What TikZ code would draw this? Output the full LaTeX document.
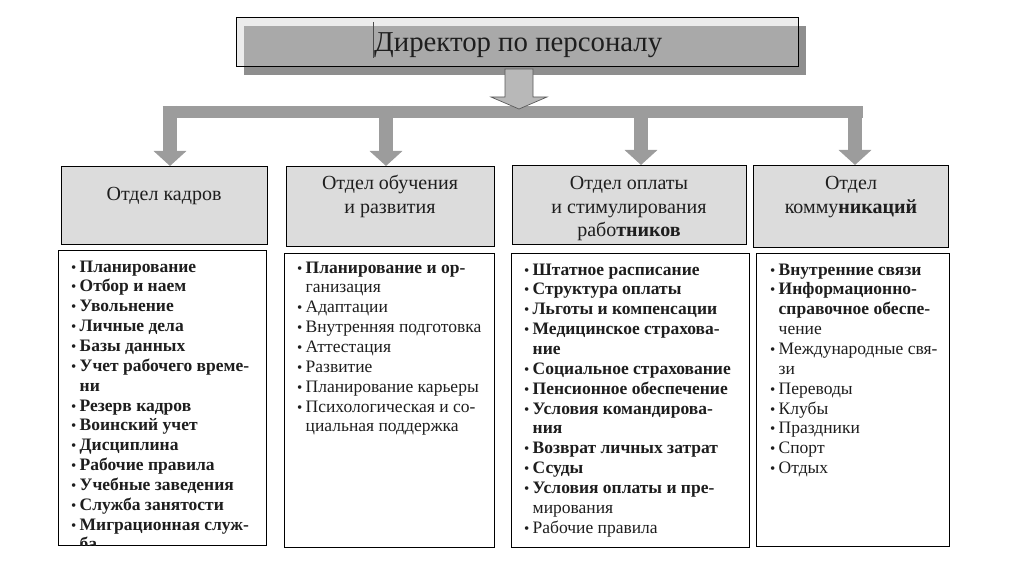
\documentclass[tikz,border=0pt]{standalone}
\usepackage{fontspec}
\setmainfont{Liberation Serif}
\usetikzlibrary{arrows.meta,calc}
\definecolor{arrgray}{HTML}{9C9C9C}
\definecolor{deptfill}{HTML}{DCDCDC}
\definecolor{titlelight}{HTML}{ECECEC}
\definecolor{titleshadow}{HTML}{8E8E8E}
\definecolor{titlemid}{HTML}{A9A9A9}
\definecolor{toparr}{HTML}{B8B8B8}
\definecolor{txt}{HTML}{1E1E1E}
\newcommand\bl{\makebox[8.5pt][l]{{\fontsize{15}{0}\selectfont\mdseries\textbullet}}}
\newcommand\ct{\hspace*{8.5pt}}
\begin{document}
\begin{tikzpicture}[x=1pt,y=-1pt,
  deptbox/.style={draw=black,line width=0.9pt,fill=deptfill,inner sep=0pt,outer sep=0pt,anchor=north west},
  listbox/.style={draw=black,line width=0.9pt,fill=white,inner sep=0pt,outer sep=0pt,anchor=north west},
  depttext/.style={align=center,inner sep=0pt,anchor=north,text=txt,font=\fontsize{20}{23.5}\selectfont},
  listtext/.style={align=left,inner sep=0pt,anchor=north west,text=txt,font=\fontsize{17.5}{19.85}\selectfont},
  bararrow/.style={draw=arrgray,line width=14pt,line cap=butt,-{Triangle[width=32pt,length=15pt]}},
  barline/.style={draw=arrgray,line width=12pt,line cap=butt}]
\useasboundingbox (0,0) rectangle (1020,588);

% title
\node[draw=none,fill=titlelight,inner sep=0pt,outer sep=0pt,minimum width=562pt,minimum height=49pt,anchor=north west] (dir) at (236,17) {};
\fill[titleshadow] (244,26) rectangle (806,75);
\fill[titlemid] (244,26) rectangle (798,66);
\draw[black,line width=0.9pt] (dir.north west) rectangle (dir.south east);
\draw[black!70,line width=0.4pt] (373,22) -- (373,58);
\node[inner sep=0pt,text=txt,font=\fontsize{28.8}{32}\selectfont,anchor=base west] (dirtext) at (374,52) {Директор по персоналу};

% department boxes
\node[deptbox,minimum width=206pt,minimum height=78pt] (d1) at (61,166) {};
\node[deptbox,minimum width=208pt,minimum height=80pt] (d2) at (286,166) {};
\node[deptbox,minimum width=234pt,minimum height=79pt] (d3) at (512,165) {};
\node[deptbox,minimum width=195pt,minimum height=82pt] (d4) at (753,165) {};

\node[depttext] (d1t) at (164,184) {\strut Отдел кадров};
\node[depttext] (d2t) at (390,173) {\strut Отдел обучения\\\strut и развития};
\node[depttext] (d3t) at (629,173) {\strut Отдел оплаты\\\strut и стимулирования\\\strut рабо\textbf{тников}};
\node[depttext] (d4t) at (851,173) {\strut Отдел\\\strut комму\textbf{никаций}};

% connectors
\coordinate (barL) at (162.5,112);
\coordinate (barR) at (862.5,112);
\coordinate (a1) at (170,106);
\coordinate (a2) at (386,106);
\coordinate (a3) at (641,106);
\coordinate (a4) at (855,106);
\draw[barline] (barL) -- (barR);
\draw[bararrow] (a1) -- (a1 |- d1.north);
\draw[bararrow] (a2) -- (a2 |- d2.north);
\draw[bararrow] (a3) -- (a3 |- d3.north);
\draw[bararrow] (a4) -- (a4 |- d4.north);
\coordinate (ta) at (505,69);
\draw[fill=toparr,draw=black!65,line width=0.7pt,line join=miter]
  (ta) -- ++(28,0) -- ++(0,28) -- ++(14,0) -- ++(-28,12) -- ++(-28,-12) -- ++(14,0) -- cycle;

% list boxes
\node[listbox,minimum width=208pt,minimum height=295pt] (l1) at (58,250) {};
\node[listbox,minimum width=210pt,minimum height=294pt] (l2) at (284,253) {};
\node[listbox,minimum width=238pt,minimum height=294pt] (l3) at (511,253) {};
\node[listbox,minimum width=193pt,minimum height=293pt] (l4) at (756,253) {};

\begin{scope}
\clip (l1.north west) rectangle (l1.south east);
\node[listtext,font=\fontsize{17.5}{19.85}\selectfont\bfseries] (l1t) at (71,258) {%
\strut\bl Планирование\\
\strut\bl Отбор и наем\\
\strut\bl Увольнение\\
\strut\bl Личные дела\\
\strut\bl Базы данных\\
\strut\bl Учет рабочего време-\\
\strut\ct ни\\
\strut\bl Резерв кадров\\
\strut\bl Воинский учет\\
\strut\bl Дисциплина\\
\strut\bl Рабочие правила\\
\strut\bl Учебные заведения\\
\strut\bl Служба занятости\\
\strut\bl Миграционная служ-\\
\strut\ct ба};
\end{scope}

\node[listtext] (l2t) at (297,259) {%
\strut\bl \textbf{Планирование и ор-}\\
\strut\ct ганизация\\
\strut\bl Адаптации\\
\strut\bl Внутренняя подготовка\\
\strut\bl Аттестация\\
\strut\bl Развитие\\
\strut\bl Планирование карьеры\\
\strut\bl Психологическая и со-\\
\strut\ct циальная поддержка};

\node[listtext] (l3t) at (524,261) {%
\strut\bl \textbf{Штатное расписание}\\
\strut\bl \textbf{Структура оплаты}\\
\strut\bl \textbf{Льготы и компенсации}\\
\strut\bl \textbf{Медицинское страхова-}\\
\strut\ct \textbf{ние}\\
\strut\bl \textbf{Социальное страхование}\\
\strut\bl \textbf{Пенсионное обеспечение}\\
\strut\bl \textbf{Условия командирова-}\\
\strut\ct \textbf{ния}\\
\strut\bl \textbf{Возврат личных затрат}\\
\strut\bl \textbf{Ссуды}\\
\strut\bl \textbf{Условия оплаты и пре-}\\
\strut\ct мирования\\
\strut\bl Рабочие правила};

\node[listtext] (l4t) at (770,261) {%
\strut\bl \textbf{Внутренние связи}\\
\strut\bl \textbf{Информационно-}\\
\strut\ct \textbf{справочное обеспе-}\\
\strut\ct чение\\
\strut\bl Международные свя-\\
\strut\ct зи\\
\strut\bl Переводы\\
\strut\bl Клубы\\
\strut\bl Праздники\\
\strut\bl Спорт\\
\strut\bl Отдых};
\end{tikzpicture}
\end{document}
